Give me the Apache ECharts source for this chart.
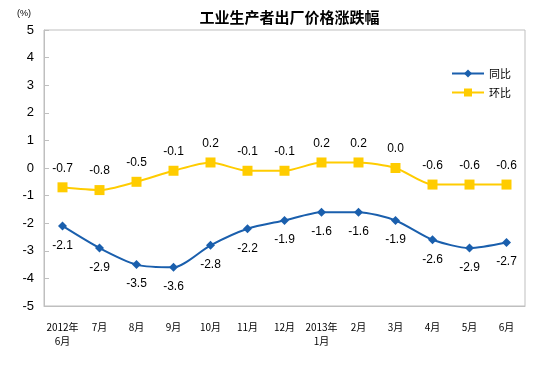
<!DOCTYPE html>
<html><head><meta charset="utf-8">
<script src="https://cdn.jsdelivr.net/npm/echarts@6/dist/echarts.min.js"></script>
<style>html,body{margin:0;padding:0;background:#fff}#c{width:554px;height:372px}</style>
</head><body><div id="c"></div>
<script>
const categories = ['2012年\n6月','7月','8月','9月','10月','11月','12月','2013年\n1月','2月','3月','4月','5月','6月'];
const tongbi = [-2.1,-2.9,-3.5,-3.6,-2.8,-2.2,-1.9,-1.6,-1.6,-1.9,-2.6,-2.9,-2.7];
const huanbi = [-0.7,-0.8,-0.5,-0.1,0.2,-0.1,-0.1,0.2,0.2,0.0,-0.6,-0.6,-0.6];
const yTicks = [-5,-4,-3,-2,-1,0,1,2,3,4,5];

const font = 'Arial, "Liberation Sans", "Noto Sans CJK SC", sans-serif';
const chart = echarts.init(document.getElementById('c'));
chart.setOption({
  animation:false,
  backgroundColor:'#fff',
  title:{text:'工业生产者出厂价格涨跌幅',left:284.5,textAlign:'center',top:5,
    textStyle:{fontSize:15,fontWeight:'bold',color:'#000',fontFamily:'"Noto Sans CJK SC", sans-serif'}},
  graphic:[{type:'text',left:17,top:9,style:{text:'(%)',fontSize:9,fill:'#000',fontFamily:font}}],
  legend:{right:38,top:63,orient:'vertical',itemGap:8,itemWidth:32,itemHeight:10,
    textStyle:{fontSize:11,color:'#000',fontFamily:'"Noto Sans CJK SC", sans-serif'},
    data:['同比','环比']},
  grid:{left:44,right:29,top:30,bottom:66,show:true,borderColor:'#bfbfbf',borderWidth:1},
  xAxis:{type:'category',data:categories,boundaryGap:true,
    axisLine:{onZero:false,lineStyle:{color:'#bfbfbf'}},
    axisTick:{inside:true,length:5,lineStyle:{color:'#bfbfbf'}},
    axisLabel:{fontSize:10,color:'#000',margin:14,interval:0,lineHeight:14,fontFamily:'"Noto Sans CJK SC", sans-serif'},
    splitLine:{show:false}},
  yAxis:{type:'value',min:-5,max:5,interval:1,
    axisLine:{show:true,lineStyle:{color:'#bfbfbf'}},
    axisTick:{show:true,inside:true,length:5,lineStyle:{color:'#bfbfbf'}},
    axisLabel:{fontSize:13,color:'#000',margin:10,fontFamily:font,
      formatter:v=>yTicks.includes(v)?String(v):''},
    splitLine:{show:false}},
  series:[
    {name:'同比',type:'line',data:tongbi,smooth:0.25,symbol:'diamond',symbolSize:9,
     itemStyle:{color:'#1a5fad'},lineStyle:{color:'#1a5fad',width:2},
     label:{show:true,position:'bottom',distance:9,fontSize:12,color:'#000',fontFamily:font,
       formatter:p=>p.value.toFixed(1)}},
    {name:'环比',type:'line',data:huanbi,smooth:0.25,symbol:'rect',symbolSize:10,
     itemStyle:{color:'#ffcc00'},lineStyle:{color:'#ffcc00',width:2},
     label:{show:true,position:'top',distance:8,fontSize:12,color:'#000',fontFamily:font,
       formatter:p=>p.value.toFixed(1)}}
  ]
});
</script></body></html>
